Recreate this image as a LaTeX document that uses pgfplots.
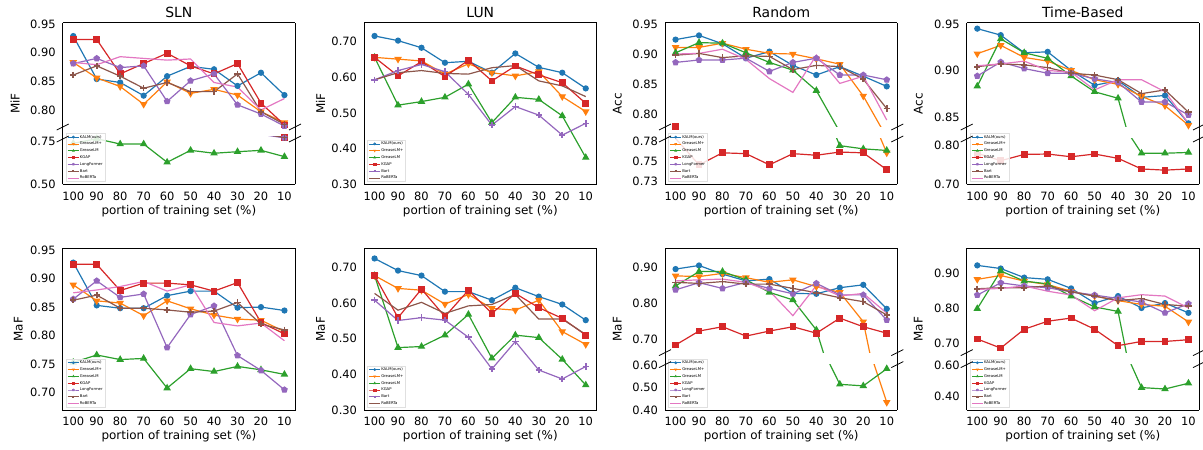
\documentclass[border=0pt]{standalone}
\usepackage{pgfplots}
\pgfplotsset{compat=1.18}
\usepackage{pgfplotstable}
\usepackage{fontspec}
\setmainfont{DejaVu Sans}

\definecolor{c1}{HTML}{1F77B4}
\definecolor{c2}{HTML}{FF7F0E}
\definecolor{c3}{HTML}{2CA02C}
\definecolor{c4}{HTML}{D62728}
\definecolor{c5}{HTML}{9467BD}
\definecolor{c6}{HTML}{8C564B}
\definecolor{c7}{HTML}{E377C2}

% SLN MiF
\pgfplotstableread{
x kalm gp glm kgap lf bart rob
0 0.929 0.883 0.740 0.923 0.881 0.861 0.883
1 0.854 0.856 0.767 0.923 0.890 0.877 0.879
2 0.848 0.841 0.736 0.863 0.874 0.859 0.893
3 0.825 0.810 0.736 0.881 0.877 0.838 0.890
4 0.859 0.849 0.629 0.899 0.815 0.848 0.887
5 0.876 0.829 0.699 0.877 0.851 0.832 0.889
6 0.871 0.836 0.682 0.863 0.863 0.832 0.848
7 0.842 0.826 0.691 0.881 0.809 0.863 0.840
8 0.865 0.797 0.699 0.812 0.793 0.797 0.800
9 0.826 0.778 0.662 0.774 0.772 0.775 0.820
}\slnmif
% LUN MiF
\pgfplotstableread{
x kalm gp glm kgap bart rob
0 0.716 0.656 0.656 0.656 0.593 0.593
1 0.703 0.651 0.522 0.604 0.619 0.613
2 0.683 0.646 0.532 0.644 0.636 0.619
3 0.641 0.609 0.544 0.602 0.616 0.611
4 0.645 0.638 0.581 0.648 0.552 0.609
5 0.613 0.613 0.473 0.590 0.466 0.627
6 0.667 0.604 0.544 0.632 0.518 0.633
7 0.628 0.616 0.538 0.607 0.494 0.590
8 0.613 0.546 0.492 0.585 0.438 0.576
9 0.569 0.504 0.375 0.527 0.471 0.546
}\lunmif
% Random Acc
\pgfplotstableread{
x kalm gp glm kgap lf bart rob
0 0.924 0.911 0.902 0.779 0.886 0.898 0.900
1 0.931 0.911 0.919 0.746 0.890 0.901 0.901
2 0.917 0.918 0.918 0.761 0.890 0.894 0.908
3 0.893 0.908 0.902 0.760 0.893 0.897 0.891
4 0.904 0.901 0.886 0.746 0.871 0.896 0.859
5 0.881 0.900 0.873 0.760 0.886 0.874 0.836
6 0.865 0.892 0.839 0.758 0.893 0.881 0.898
7 0.879 0.883 0.770 0.762 0.865 0.879 0.851
8 0.863 0.830 0.766 0.761 0.865 0.858 0.863
9 0.846 0.761 0.764 0.740 0.857 0.809 0.790
}\randacc
% Time Acc
\pgfplotstableread{
x kalm gp glm kgap lf bart rob
0 0.945 0.918 0.883 0.779 0.894 0.904 0.905
1 0.938 0.927 0.934 0.760 0.909 0.907 0.907
2 0.919 0.914 0.919 0.776 0.902 0.906 0.910
3 0.920 0.910 0.913 0.777 0.897 0.903 0.900
4 0.900 0.900 0.894 0.770 0.897 0.897 0.898
5 0.884 0.890 0.877 0.777 0.891 0.895 0.879
6 0.889 0.885 0.870 0.766 0.887 0.890 0.890
7 0.871 0.872 0.779 0.739 0.866 0.875 0.890
8 0.873 0.862 0.779 0.736 0.866 0.879 0.877
9 0.843 0.841 0.781 0.739 0.852 0.855 0.843
}\timeacc
% SLN MaF
\pgfplotstableread{
x kalm gp glm kgap lf bart rob
0 0.928 0.889 0.753 0.925 0.864 0.862 0.875
1 0.853 0.861 0.766 0.925 0.896 0.871 0.880
2 0.848 0.857 0.758 0.879 0.867 0.848 0.886
3 0.848 0.835 0.760 0.892 0.873 0.848 0.895
4 0.870 0.861 0.708 0.892 0.779 0.845 0.878
5 0.878 0.847 0.742 0.889 0.837 0.841 0.889
6 0.878 0.836 0.737 0.878 0.852 0.843 0.823
7 0.849 0.829 0.746 0.893 0.765 0.858 0.817
8 0.850 0.827 0.740 0.823 0.739 0.820 0.822
9 0.844 0.807 0.732 0.803 0.705 0.810 0.791
}\slnmaf
% LUN MaF
\pgfplotstableread{
x kalm gp glm kgap bart rob
0 0.725 0.677 0.677 0.677 0.608 0.627
1 0.691 0.641 0.475 0.559 0.551 0.580
2 0.677 0.636 0.478 0.639 0.559 0.602
3 0.632 0.597 0.510 0.562 0.552 0.571
4 0.632 0.624 0.568 0.636 0.504 0.592
5 0.608 0.585 0.445 0.571 0.415 0.596
6 0.643 0.580 0.510 0.627 0.492 0.624
7 0.618 0.608 0.503 0.587 0.412 0.555
8 0.596 0.520 0.442 0.557 0.387 0.555
9 0.552 0.484 0.370 0.510 0.422 0.512
}\lunmaf
% Random MaF
\pgfplotstableread{
x kalm gp glm kgap lf bart rob
0 0.895 0.876 0.848 0.683 0.837 0.858 0.862
1 0.905 0.874 0.888 0.722 0.857 0.855 0.865
2 0.881 0.883 0.888 0.734 0.841 0.860 0.867
3 0.862 0.871 0.865 0.708 0.858 0.853 0.858
4 0.867 0.858 0.830 0.722 0.841 0.853 0.834
5 0.827 0.865 0.809 0.734 0.826 0.841 0.765
6 0.826 0.846 0.725 0.716 0.855 0.829 0.849
7 0.843 0.830 0.514 0.758 0.823 0.815 0.820
8 0.851 0.748 0.507 0.734 0.823 0.804 0.827
9 0.784 0.434 0.583 0.716 0.753 0.767 0.772
}\randmaf
% Time MaF
\pgfplotstableread{
x kalm gp glm kgap lf bart rob
0 0.923 0.883 0.799 0.712 0.838 0.856 0.854
1 0.914 0.894 0.907 0.686 0.873 0.859 0.857
2 0.888 0.878 0.878 0.740 0.864 0.859 0.864
3 0.883 0.868 0.870 0.763 0.859 0.864 0.849
4 0.857 0.849 0.835 0.772 0.847 0.847 0.838
5 0.815 0.835 0.804 0.740 0.838 0.835 0.793
6 0.835 0.822 0.791 0.693 0.828 0.822 0.830
7 0.801 0.811 0.454 0.705 0.818 0.828 0.839
8 0.815 0.806 0.445 0.705 0.787 0.811 0.835
9 0.787 0.761 0.482 0.710 0.813 0.806 0.801
}\timemaf

\pgfplotsset{
 kalmS/.style={color=c1, line width=1.2pt, mark=*, mark size=2.5pt},
 gpS/.style={color=c2, line width=1.2pt, mark=triangle*, mark size=3.2pt, mark options={rotate=180}},
 glmS/.style={color=c3, line width=1.2pt, mark=triangle*, mark size=3.2pt},
 kgapS/.style={color=c4, line width=1.2pt, mark=square*, mark size=2.8pt},
 lfS/.style={color=c5, line width=1.2pt, mark=pentagon*, mark size=2.8pt},
 bartS/.style={color=c6, line width=1.2pt, mark=+, mark size=3.2pt, mark options={line width=1.6pt}},
 robS/.style={color=c7, line width=1.2pt, no marks},
 bartL/.style={color=c5, line width=1.2pt, mark=+, mark size=3.2pt, mark options={line width=1.6pt}},
 robL/.style={color=c6, line width=1.2pt, no marks},
 base/.style={
  scale only axis, width=232.3bp, xmin=-0.45, xmax=9.45,
  major tick length=0pt,
  tick label style={font=\fontsize{11.5}{13}\selectfont},
  /pgf/number format/assume math mode=true,
  yticklabel style={/pgf/number format/fixed, /pgf/number format/fixed zerofill, /pgf/number format/precision=2, xshift=-3.5bp},
  xticklabel style={yshift=-3.7bp},
  axis line style={line width=0.9bp, black},
  anchor=south west,
  legend cell align=left,
  legend image code/.code={\draw[mark repeat=2,mark phase=2,##1,mark size=1.1pt,line width=0.6pt] plot coordinates {(0bp,0bp) (5.4bp,0bp) (10.8bp,0bp)};},
  legend style={at={(axis description cs:0,0)}, anchor=south west, xshift=3.3bp, yshift=2.6bp,
    font=\fontsize{3.8}{4.2}\selectfont, draw=black!12, fill=white, fill opacity=0.85, text opacity=1,
    inner xsep=1.5bp, inner ysep=0.8bp, row sep=1.2bp,
    nodes={inner sep=0.9bp, text height=2.9bp, text depth=0.9bp}},
 },
 xt/.style={xtick={0,...,9}, xticklabels={100,90,80,70,60,50,40,30,20,10}},
 up/.style={base, height=104.3bp, axis x line*=top, axis y line*=box, xtick=\empty},
 low/.style={base, xt, height=45.3bp, axis x line*=bottom, axis y line*=box},
 full/.style={base, xt, height=161.6bp},
 leg7/.style={legend entries={KALM(ours),GreaseLM+,GreaseLM,KGAP,LongFormer,Bart,RoBERTa}},
 leg6/.style={legend entries={KALM(ours),GreaseLM+,GreaseLM,KGAP,Bart,RoBERTa}},
}

\newcommand{\plotseven}[1]{%
 \addplot[kalmS] table[x=x,y=kalm]{#1};
 \addplot[gpS] table[x=x,y=gp]{#1};
 \addplot[glmS] table[x=x,y=glm]{#1};
 \addplot[kgapS] table[x=x,y=kgap]{#1};
 \addplot[lfS] table[x=x,y=lf]{#1};
 \addplot[bartS] table[x=x,y=bart]{#1};
 \addplot[robS] table[x=x,y=rob]{#1};
}
\newcommand{\plotsix}[1]{%
 \addplot[kalmS] table[x=x,y=kalm]{#1};
 \addplot[gpS] table[x=x,y=gp]{#1};
 \addplot[glmS] table[x=x,y=glm]{#1};
 \addplot[kgapS] table[x=x,y=kgap]{#1};
 \addplot[bartL] table[x=x,y=bart]{#1};
 \addplot[robL] table[x=x,y=rob]{#1};
}
% #1 left x, #2 right x, #3 lower-top y, #4 upper-bottom y
\newcommand{\brk}[4]{%
 \draw[line width=0.9bp, black] (#1,#3) -- (#1,#4) (#2,#3) -- (#2,#4);
 \draw[line width=0.8bp, black] (#1-6,#3-3) -- (#1+6,#3+3) (#1-6,#4-3) -- (#1+6,#4+3)
   (#2-6,#3-3) -- (#2+6,#3+3) (#2-6,#4-3) -- (#2+6,#4+3);
}

\begin{document}
\begin{tikzpicture}[x=1bp,y=1bp]
\useasboundingbox (0,0) rectangle (1203,450);

% ---------- Row 1 ----------
% SLN MiF (broken)
\begin{axis}[up, at={(62.7bp,323bp)}, ymin=0.77035, ymax=0.95233, ytick={0.80,0.85,0.90,0.95}]
\plotseven{\slnmif}
\end{axis}
\begin{axis}[low, leg7, height=47.3bp, at={(62.7bp,265.7bp)}, ymin=0.50, ymax=0.7773, ytick={0.50,0.75}]
\plotseven{\slnmif}
\end{axis}
\brk{62.7}{295}{311}{323}

% LUN MiF
\begin{axis}[full, leg6, at={(364bp,265.7bp)}, ymin=0.30, ymax=0.7533, ytick={0.30,0.40,0.50,0.60,0.70}]
\plotsix{\lunmif}
\end{axis}

% Random Acc (broken)
\begin{axis}[up, at={(665bp,323bp)}, ymin=0.77833, ymax=0.95222, ytick={0.80,0.85,0.90,0.95}]
\plotseven{\randacc}
\end{axis}
\begin{axis}[low, leg7, at={(665bp,265.7bp)}, ymin=0.72167, ymax=0.77833, ytick={0.725,0.75,0.775}, yticklabels={0.73,0.75,0.78}]
\plotseven{\randacc}
\end{axis}
\brk{665}{897.3}{311}{323}

% Time Acc (broken)
\begin{axis}[up, at={(966.7bp,323bp)}, ymin=0.83908, ymax=0.95141, ytick={0.85,0.90,0.95}]
\plotseven{\timeacc}
\end{axis}
\begin{axis}[low, leg7, at={(966.7bp,265.7bp)}, ymin=0.70, ymax=0.81525, ytick={0.70,0.80}]
\plotseven{\timeacc}
\end{axis}
\brk{966.7}{1199}{311}{323}

% ---------- Row 2 ----------
% SLN MaF
\begin{axis}[full, leg7, at={(62.7bp,40bp)}, ymin=0.6696, ymax=0.9529, ytick={0.70,0.75,0.80,0.85,0.90,0.95}]
\plotseven{\slnmaf}
\end{axis}

% LUN MaF
\begin{axis}[full, leg6, at={(364bp,40bp)}, ymin=0.30, ymax=0.7533, ytick={0.30,0.40,0.50,0.60,0.70}]
\plotsix{\lunmaf}
\end{axis}

% Random MaF (broken)
\begin{axis}[up, at={(665bp,97.4bp)}, ymin=0.66186, ymax=0.95302, ytick={0.70,0.80,0.90}]
\plotseven{\randmaf}
\end{axis}
\begin{axis}[low, leg7, height=45.4bp, at={(665bp,40bp)}, ymin=0.40, ymax=0.6015, ytick={0.40,0.50,0.60}]
\plotseven{\randmaf}
\end{axis}
\brk{665}{897.3}{85.4}{97.4}

% Time MaF (broken)
\begin{axis}[up, at={(966.7bp,97.4bp)}, ymin=0.67308, ymax=0.972, ytick={0.70,0.80,0.90}]
\plotseven{\timemaf}
\end{axis}
\begin{axis}[low, leg7, height=45.4bp, at={(966.7bp,40bp)}, ymin=0.30968, ymax=0.60215, ytick={0.40,0.60}]
\plotseven{\timemaf}
\end{axis}
\brk{966.7}{1199}{85.4}{97.4}

% ---------- Texts ----------
\begin{scope}[every node/.style={inner sep=0pt}]
\node[font=\fontsize{14}{16}\selectfont] at (178.9,437.7) {SLN};
\node[font=\fontsize{14}{16}\selectfont] at (480.3,437.7) {LUN};
\node[font=\fontsize{14}{16}\selectfont] at (781.2,437.7) {Random};
\node[font=\fontsize{14}{16}\selectfont] at (1082.8,437.7) {Time-Based};
\foreach \cx in {178.9,480.3,781.2,1082.8}{
  \node[font=\fontsize{12}{14}\selectfont] at (\cx,238.3) {portion of training set (\%)};
  \node[font=\fontsize{12}{14}\selectfont] at (\cx,13.3) {portion of training set (\%)};
}
\node[font=\fontsize{12}{14}\selectfont, rotate=90] at (15,346.5) {MiF};
\node[font=\fontsize{12}{14}\selectfont, rotate=90] at (320.7,346.5) {MiF};
\node[font=\fontsize{12}{14}\selectfont, rotate=90] at (617.3,346.5) {Acc};
\node[font=\fontsize{12}{14}\selectfont, rotate=90] at (918.3,346.5) {Acc};
\node[font=\fontsize{12}{14}\selectfont, rotate=90] at (18.3,120.85) {MaF};
\node[font=\fontsize{12}{14}\selectfont, rotate=90] at (320.7,120.85) {MaF};
\node[font=\fontsize{12}{14}\selectfont, rotate=90] at (617.3,120.85) {MaF};
\node[font=\fontsize{12}{14}\selectfont, rotate=90] at (918.3,120.85) {MaF};
\end{scope}
\end{tikzpicture}
\end{document}
